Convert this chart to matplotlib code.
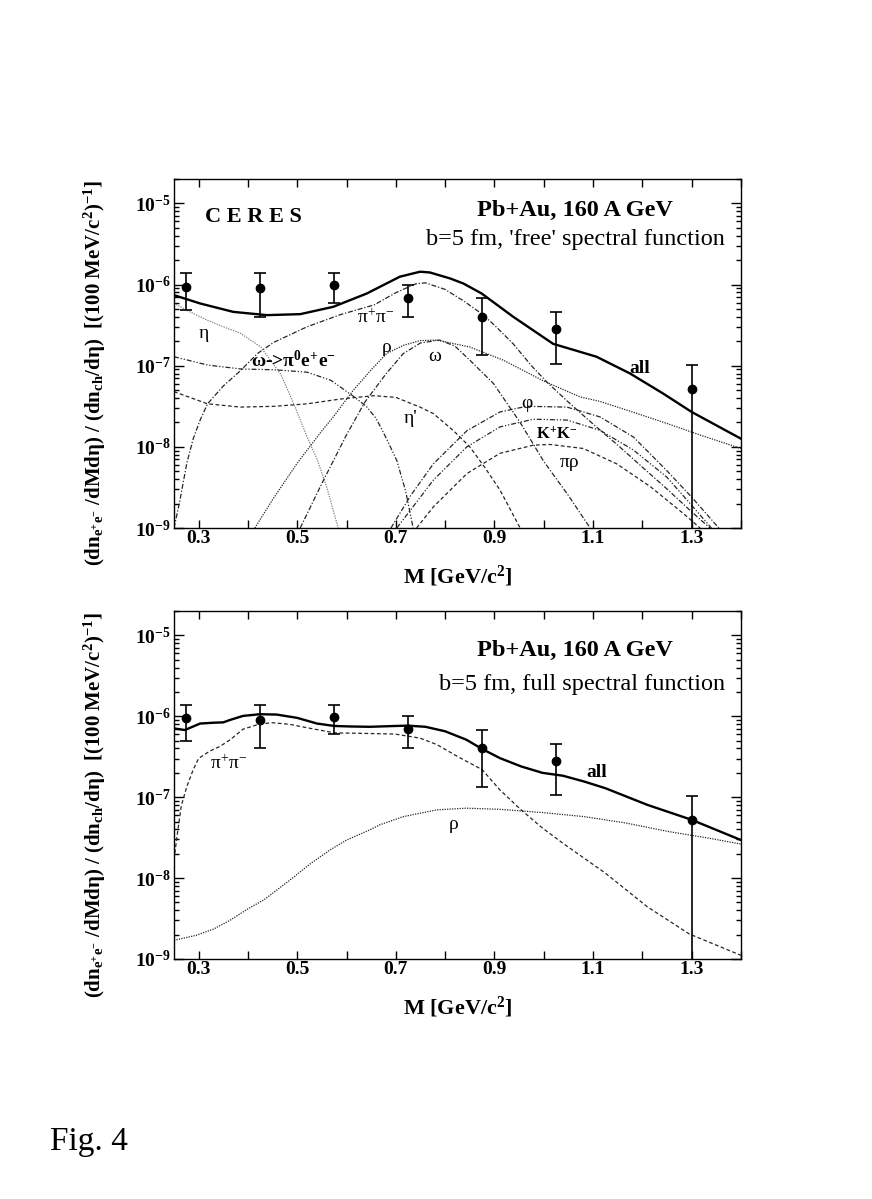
import matplotlib.pyplot as plt
import numpy as np
from matplotlib.ticker import FuncFormatter, LogLocator, MultipleLocator

plt.rcParams['font.family'] = ['Liberation Serif', 'DejaVu Serif']
plt.rcParams['mathtext.fontset'] = 'custom'
plt.rcParams['mathtext.rm'] = 'Liberation Serif'
plt.rcParams['mathtext.it'] = 'Liberation Serif:italic'
plt.rcParams['mathtext.bf'] = 'Liberation Serif:bold'

# CERES data (same in both panels)
data_m = [0.275, 0.425, 0.575, 0.725, 0.875, 1.025, 1.30]
data_y = [9.4e-7, 9.0e-7, 9.9e-7, 6.9e-7, 4.0e-7, 2.8e-7, 5.2e-8]
data_hi = [1.38e-6, 1.38e-6, 1.38e-6, 1.0e-6, 6.8e-7, 4.6e-7, 1.02e-7]
data_lo = [4.9e-7, 4.0e-7, 6.0e-7, 4.0e-7, 1.35e-7, 1.05e-7, 1e-12]

# top panel: 'free' spectral function
all_free_m = [0.25, 0.303, 0.37, 0.438, 0.506, 0.573, 0.641, 0.708, 0.749, 0.769,
              0.81, 0.837, 0.874, 0.938, 1.019, 1.074, 1.107, 1.175, 1.242, 1.30, 1.40]
all_free_y = [7.41e-7, 5.85e-7, 4.61e-7, 4.20e-7, 4.32e-7, 5.32e-7, 7.76e-7, 1.25e-6, 1.44e-6, 1.41e-6,
              1.19e-6, 1.03e-6, 7.76e-7, 4.01e-7, 1.86e-7, 1.48e-7, 1.29e-7, 8.02e-8, 4.54e-8, 2.69e-8, 1.26e-8]

pipi_free_m = [0.25, 0.262, 0.276, 0.289, 0.303, 0.318, 0.35, 0.385, 0.419, 0.453, 0.52, 0.588, 0.656,
               0.70, 0.74, 0.76, 0.80, 0.837, 0.874, 0.90, 0.938, 0.975, 1.006, 1.05, 1.10, 1.15,
               1.20, 1.25, 1.30, 1.337]
pipi_free_y = [1.0e-9, 2.19e-9, 6.31e-9, 1.26e-8, 2.14e-8, 3.39e-8, 5.62e-8, 8.71e-8, 1.41e-7, 1.95e-7,
               3.02e-7, 4.27e-7, 5.62e-7, 7.94e-7, 1.02e-6, 1.05e-6, 8.71e-7, 6.31e-7, 4.37e-7, 3.16e-7,
               1.86e-7, 1.0e-7, 6.31e-8, 3.55e-8, 1.91e-8, 1.05e-8, 5.62e-9, 3.02e-9, 1.58e-9, 1.0e-9]

eta_m = [0.25, 0.28, 0.318, 0.35, 0.385, 0.426, 0.466, 0.493, 0.52, 0.54, 0.56, 0.583]
eta_y = [5.89e-7, 4.68e-7, 3.63e-7, 3.02e-7, 2.51e-7, 1.70e-7, 7.94e-8, 3.39e-8, 1.32e-8, 7.08e-9,
         3.16e-9, 1.0e-9]

omega_dalitz_m = [0.25, 0.318, 0.385, 0.453, 0.52, 0.568, 0.61, 0.64, 0.66, 0.681, 0.702, 0.72, 0.735]
omega_dalitz_y = [1.29e-7, 1.02e-7, 9.12e-8, 8.91e-8, 8.32e-8, 6.61e-8, 4.37e-8, 3.16e-8, 2.24e-8,
                  1.26e-8, 6.76e-9, 2.82e-9, 1.0e-9]

etap_m = [0.25, 0.318, 0.385, 0.453, 0.52, 0.588, 0.656, 0.70, 0.749, 0.776, 0.817, 0.85, 0.88, 0.911, 0.952]
etap_y = [4.79e-8, 3.39e-8, 3.09e-8, 3.16e-8, 3.39e-8, 3.89e-8, 4.27e-8, 4.07e-8, 3.09e-8, 2.57e-8,
          1.58e-8, 1.0e-8, 5.62e-9, 2.95e-9, 1.0e-9]

rho_free_m = [0.414, 0.45, 0.50, 0.55, 0.573, 0.614, 0.65, 0.681, 0.715, 0.749, 0.783, 0.85, 0.918,
              1.0, 1.074, 1.114, 1.18, 1.249, 1.32, 1.40]
rho_free_y = [1.0e-9, 2.24e-9, 6.31e-9, 1.58e-8, 2.34e-8, 5.01e-8, 8.91e-8, 1.41e-7, 1.78e-7, 2.04e-7,
              2.07e-7, 1.70e-7, 1.17e-7, 6.46e-8, 4.12e-8, 3.63e-8, 2.69e-8, 1.95e-8, 1.38e-8, 9.55e-9]

omega_m = [0.506, 0.55, 0.60, 0.637, 0.68, 0.715, 0.75, 0.789, 0.82, 0.85, 0.898, 0.952, 1.0, 1.05, 1.094]
omega_y = [1.0e-9, 3.55e-9, 1.41e-8, 3.55e-8, 7.94e-8, 1.41e-7, 1.91e-7, 2.07e-7, 1.74e-7, 1.17e-7,
           6.03e-8, 2.0e-8, 6.61e-9, 2.51e-9, 1.0e-9]

phi_m = [0.69, 0.73, 0.776, 0.844, 0.911, 0.965, 1.047, 1.114, 1.182, 1.249, 1.30, 1.355]
phi_y = [1.0e-9, 2.51e-9, 6.17e-9, 1.58e-8, 2.69e-8, 3.16e-8, 3.09e-8, 2.34e-8, 1.32e-8, 5.13e-9,
         2.40e-9, 1.0e-9]

kk_m = [0.702, 0.708, 0.776, 0.844, 0.911, 0.979, 1.047, 1.114, 1.182, 1.249, 1.30, 1.34]
kk_y = [1.0e-9, 1.12e-9, 3.89e-9, 1.0e-8, 1.76e-8, 2.19e-8, 2.14e-8, 1.60e-8, 9.12e-9, 4.27e-9,
        1.9e-9, 1.0e-9]

pirho_m = [0.742, 0.776, 0.844, 0.911, 0.979, 1.013, 1.08, 1.148, 1.216, 1.283, 1.317]
pirho_y = [1.0e-9, 1.82e-9, 4.68e-9, 8.32e-9, 1.05e-8, 1.07e-8, 9.55e-9, 6.17e-9, 3.24e-9, 1.51e-9, 1.0e-9]

# bottom panel: full spectral function
all_full_m = [0.25, 0.272, 0.303, 0.33, 0.35, 0.364, 0.39, 0.424, 0.458, 0.50, 0.54, 0.575, 0.607,
              0.647, 0.70, 0.724, 0.76, 0.80, 0.843, 0.875, 0.911, 0.954, 0.997, 1.039, 1.082,
              1.125, 1.21, 1.30, 1.40]
all_full_y = [7.08e-7, 6.76e-7, 8.13e-7, 8.32e-7, 8.41e-7, 9.02e-7, 1.01e-6, 1.06e-6, 1.05e-6, 9.55e-7,
              8.13e-7, 7.59e-7, 7.48e-7, 7.41e-7, 7.59e-7, 7.66e-7, 7.41e-7, 6.52e-7, 5.13e-7, 3.94e-7,
              3.04e-7, 2.40e-7, 2.0e-7, 1.84e-7, 1.56e-7, 1.29e-7, 8.04e-8, 5.25e-8, 2.95e-8]

pipi_full_m = [0.25, 0.258, 0.265, 0.276, 0.289, 0.30, 0.323, 0.344, 0.364, 0.39, 0.424, 0.45, 0.485,
               0.527, 0.575, 0.647, 0.698, 0.749, 0.783, 0.826, 0.875, 0.911, 0.954, 0.997, 1.039,
               1.125, 1.21, 1.295, 1.40]
pipi_full_y = [1.70e-8, 3.98e-8, 7.94e-8, 1.35e-7, 2.19e-7, 3.02e-7, 3.72e-7, 4.27e-7, 5.13e-7, 6.92e-7,
               8.04e-7, 8.32e-7, 7.94e-7, 7.08e-7, 6.24e-7, 6.12e-7, 6.03e-7, 5.37e-7, 4.47e-7, 3.16e-7,
               2.19e-7, 1.23e-7, 6.97e-8, 4.17e-8, 2.69e-8, 1.15e-8, 4.42e-9, 2.04e-9, 1.11e-9]

rho_full_m = [0.25, 0.296, 0.33, 0.364, 0.40, 0.432, 0.485, 0.527, 0.567, 0.60, 0.647, 0.668, 0.715,
              0.783, 0.843, 0.911, 0.997, 1.082, 1.167, 1.253, 1.338, 1.40]
rho_full_y = [1.70e-9, 1.97e-9, 2.34e-9, 3.02e-9, 4.17e-9, 5.37e-9, 9.44e-9, 1.51e-8, 2.24e-8, 2.95e-8,
              3.94e-8, 4.57e-8, 5.75e-8, 6.97e-8, 7.31e-8, 7.08e-8, 6.46e-8, 5.75e-8, 4.79e-8, 3.76e-8,
              3.09e-8, 2.63e-8]

xtick_values = [0.3, 0.5, 0.7, 0.9, 1.1, 1.3]
xtick_labels = ['0.3', '0.5', '0.7', '0.9', '1.1', '1.3']

YLABEL = (r'(dn$_{\mathbf{e^{+}e^{-}}}$ /dMdη) / (dn$_{\mathbf{ch}}$/dη)  '
          r'[(100 MeV/c$^{\mathbf{2}}$)$^{\mathbf{-1}}$]')
XLABEL = r'M [GeV/c$^{\mathbf{2}}$]'

DASHDOT = (0, (4, 1.5, 1, 1.5))
DASHDOTDOT = (0, (4, 1.5, 1, 1.5, 1, 1.5))
DASHED = (0, (3, 2))
DOTTED = (0, (1, 1))


def style_axes(ax):
    """Common frame, ticks and labels of both panels."""
    ax.set_yscale('log')
    ax.set_xlim(0.25, 1.4)
    ax.set_ylim(1e-9, 2e-5)
    ax.set_xticks(xtick_values, labels=xtick_labels, fontweight='bold')
    ax.xaxis.set_minor_locator(MultipleLocator(0.1))
    ax.yaxis.set_major_locator(LogLocator(base=10))
    ax.yaxis.set_minor_locator(LogLocator(base=10, subs=np.arange(2, 10)))
    ax.yaxis.set_major_formatter(FuncFormatter(
        lambda v, p: r'$\mathbf{10^{%d}}$' % int(round(np.log10(v)))))
    ax.tick_params(axis='both', which='both', direction='in', top=True, right=True, width=1)
    ax.tick_params(axis='x', which='both', length=6, pad=1.7, labelsize=14)
    ax.tick_params(axis='y', which='major', length=7, pad=2, labelsize=14)
    ax.tick_params(axis='y', which='minor', length=3.5)
    for spine in ax.spines.values():
        spine.set_linewidth(1.0)
    ax.set_xlabel(XLABEL, fontsize=16, fontweight='bold', labelpad=12)
    ax.set_ylabel(YLABEL, fontsize=15, fontweight='bold')
    ax.yaxis.set_label_coords(-0.116, 0.443)


def plot_data(ax):
    y = np.array(data_y)
    yerr = [y - np.array(data_lo), np.array(data_hi) - y]
    ax.errorbar(data_m, data_y, yerr=yerr, fmt='o', color='k', ms=6,
                capsize=4, elinewidth=1.2, capthick=1.2, zorder=5)


fig = plt.figure(figsize=(8.72, 11.99), dpi=100)
ax1 = fig.add_axes([174 / 872, 1 - 528 / 1199, 567 / 872, 349 / 1199])
ax2 = fig.add_axes([174 / 872, 1 - 959 / 1199, 567 / 872, 348 / 1199])

# ---- top panel
thin = dict(color='0.15', lw=0.9)
ax1.plot(all_free_m, all_free_y, color='k', lw=1.7)
ax1.plot(pipi_free_m, pipi_free_y, ls=DASHDOT, **thin)
ax1.plot(eta_m, eta_y, ls=DOTTED, color='0.5', lw=0.9)
ax1.plot(omega_dalitz_m, omega_dalitz_y, ls=DASHDOTDOT, **thin)
ax1.plot(etap_m, etap_y, ls=DASHED, **thin)
ax1.plot(rho_free_m, rho_free_y, ls=DOTTED, **thin)
ax1.plot(omega_m, omega_y, ls=DASHDOT, **thin)
ax1.plot(phi_m, phi_y, ls=DASHDOT, **thin)
ax1.plot(kk_m, kk_y, ls=DASHDOTDOT, **thin)
ax1.plot(pirho_m, pirho_y, ls=DASHED, **thin)
plot_data(ax1)
style_axes(ax1)

lab = dict(ha='center', va='center', fontsize=14)
ax1.text(0.311, 2.5e-7, 'η', **lab)
ax1.text(0.658, 3.9e-7, r'π$^{+}$π$^{-}$', **lab)
ax1.text(0.681, 1.7e-7, 'ρ', **lab)
ax1.text(0.779, 1.29e-7, 'ω', **lab)
ax1.text(0.493, 1.17e-7, r'ω->π$^{\mathbf{0}}$e$^{\mathbf{+}}$e$^{\mathbf{-}}$', fontweight='bold', **lab)
ax1.text(0.729, 2.24e-8, "η'", **lab)
ax1.text(0.965, 3.4e-8, 'φ', **lab)
ax1.text(1.026, 1.4e-8, r'K$^{\mathbf{+}}$K$^{\mathbf{-}}$', ha='center', va='center',
         fontsize=12, fontweight='bold')
ax1.text(1.053, 6.5e-9, 'πρ', **lab)
ax1.text(1.195, 9.3e-8, 'all', ha='center', va='center', fontsize=14, fontweight='bold')
ax1.text(0.055, 0.89, 'C E R E S', transform=ax1.transAxes, fontsize=16,
         fontweight='bold', va='center')
ax1.text(0.707, 0.911, 'Pb+Au, 160 A GeV', transform=ax1.transAxes, fontsize=17.5,
         fontweight='bold', ha='center', va='center')
ax1.text(0.972, 0.826, "b=5 fm, 'free' spectral function", transform=ax1.transAxes,
         fontsize=17.5, ha='right', va='center')

# ---- bottom panel
ax2.plot(all_full_m, all_full_y, color='k', lw=1.7)
ax2.plot(pipi_full_m, pipi_full_y, ls=DASHED, color='0.15', lw=0.9)
ax2.plot(rho_full_m, rho_full_y, ls=DOTTED, **thin)
plot_data(ax2)
style_axes(ax2)

ax2.text(0.36, 2.63e-7, r'π$^{+}$π$^{-}$', **lab)
ax2.text(0.817, 4.6e-8, 'ρ', **lab)
ax2.text(1.107, 2.0e-7, 'all', ha='center', va='center', fontsize=14, fontweight='bold')
ax2.text(0.707, 0.887, 'Pb+Au, 160 A GeV', transform=ax2.transAxes, fontsize=17.5,
         fontweight='bold', ha='center', va='center')
ax2.text(0.972, 0.79, 'b=5 fm, full spectral function', transform=ax2.transAxes,
         fontsize=17.5, ha='right', va='center')

fig.text(0.057, 0.048, 'Fig. 4', fontsize=24, va='center')

fig.savefig('out.png', dpi=100)
